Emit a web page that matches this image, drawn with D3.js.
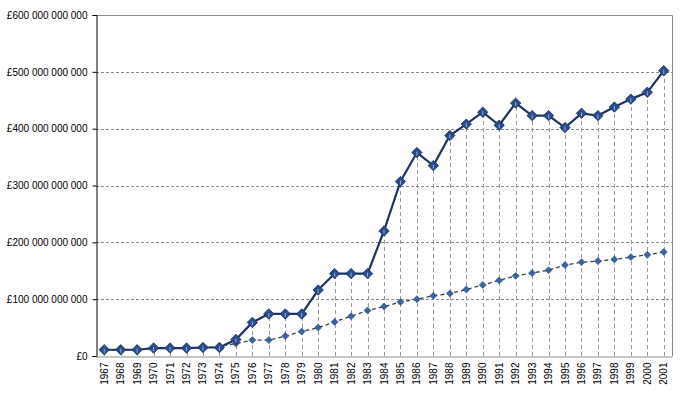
<!DOCTYPE html>
<html>
<head>
<meta charset="utf-8">
<script src="https://cdn.jsdelivr.net/npm/d3@7"></script>
<style>
  body { margin: 0; background: #fff; }
  text { font-family: "Liberation Sans", Arial, sans-serif; font-size: 10px; fill: #000; }
</style>
</head>
<body>
<div class="chart"></div>
<script>
// data, in billions of pounds
const years = d3.range(1967, 2002).map(String);

const mainValues = [11, 11, 11, 14, 14, 14, 15, 15, 29, 59,
                    74, 74, 74, 116, 145, 145, 145, 220, 307, 358,
                    335, 388, 408, 429, 406, 445, 423, 423, 402, 427,
                    423, 438, 452, 464, 502];

const secondValues = [11, 11, 11, 13, 14, 14, 14, 17, 22, 28,
                      28, 35, 43, 50, 60, 70, 80, 87, 95, 100,
                      106, 110, 117, 125, 133, 141, 146, 151, 160, 165,
                      167, 170, 174, 178, 183];

const yTicks = [0, 100, 200, 300, 400, 500, 600];

const width = 682, height = 396;
const pLeft = 96, pRight = 672, pTop = 15, pBottom = 356;

const svg = d3.select(".chart")
              .append("svg")
              .attr("width", width)
              .attr("height", height);

const x = d3.scaleBand()
            .domain(years)
            .range([pLeft, pRight])
            .padding(0);

const y = d3.scaleLinear()
            .domain([0, 600])
            .range([pBottom, pTop]);

const locale = d3.formatLocale({decimal: ".", thousands: " ", grouping: [3], currency: ["£", ""]});
const fmt = locale.format("$,.0f");

// horizontal grid lines
svg.append("g")
   .selectAll("line")
   .data(yTicks.filter(d => d > 0 && d < 600))
   .join("line")
   .attr("x1", pLeft)
   .attr("x2", pRight)
   .attr("y1", d => Math.round(y(d)) + 0.5)
   .attr("y2", d => Math.round(y(d)) + 0.5)
   .attr("stroke", "#8a8a8a")
   .attr("stroke-dasharray", "3,2");

// drop lines down from the top point
const cx = d => x(d) + x.bandwidth() / 2;
svg.append("g")
   .selectAll("line")
   .data(years)
   .join("line")
   .attr("x1", d => Math.round(cx(d)) + 0.5)
   .attr("x2", d => Math.round(cx(d)) + 0.5)
   .attr("y1", pBottom)
   .attr("y2", (d, i) => y(Math.max(mainValues[i], secondValues[i])))
   .attr("stroke", "#9a9a9a")
   .attr("stroke-dasharray", "4,3");

// plot border top / right
svg.append("path")
   .attr("d", `M${pLeft},${pTop + 0.5}H${pRight + 0.5}V${pBottom}`)
   .attr("fill", "none")
   .attr("stroke", "#8a8a8a");

// y axis
const yAxis = svg.append("g")
                 .attr("transform", `translate(${pLeft + 0.5},0)`)
                 .call(d3.axisLeft(y).tickValues(yTicks).tickSize(4).tickPadding(5)
                         .tickFormat(d => fmt(d * 1e9)));
yAxis.selectAll("path, line").attr("stroke", "#000");
yAxis.selectAll("text").style("font-family", "Liberation Sans, Arial, sans-serif").style("font-size", "10px");

// x axis
const xAxis = svg.append("g")
                 .attr("transform", `translate(0,${pBottom + 0.5})`)
                 .call(d3.axisBottom(x).tickSizeOuter(0).tickSize(0).tickPadding(6));
xAxis.select(".domain").attr("stroke", "#8a8a8a");
xAxis.selectAll(".tick text")
     .style("font-family", "Liberation Sans, Arial, sans-serif")
     .style("font-size", "10px")
     .attr("transform", "rotate(-90)")
     .attr("text-anchor", "end")
     .attr("x", -6)
     .attr("y", 0)
     .attr("dy", "0.35em");

// second series (dashed)
const line2 = d3.line().x((d, i) => cx(years[i])).y(d => y(d));
svg.append("path")
   .datum(secondValues)
   .attr("d", line2)
   .attr("fill", "none")
   .attr("stroke", "#404040")
   .attr("stroke-width", 1.3)
   .attr("stroke-dasharray", "4,3");

const diamond = r => `M0,${-r}L${r},0L0,${r}L${-r},0Z`;

svg.append("g")
   .selectAll("path")
   .data(secondValues)
   .join("path")
   .attr("transform", (d, i) => `translate(${cx(years[i])},${y(d)})`)
   .attr("d", diamond(3.5))
   .attr("fill", "#3a64a0")
   .attr("stroke", "#2c4f86")
   .attr("stroke-width", 0.6);

// main series
svg.append("path")
   .datum(mainValues)
   .attr("d", line2)
   .attr("fill", "none")
   .attr("stroke", "#1f3560")
   .attr("stroke-width", 2.2);

const mk = svg.append("g")
              .selectAll("g")
              .data(mainValues)
              .join("g")
              .attr("transform", (d, i) => `translate(${cx(years[i])},${y(d)})`);
mk.append("path")
  .attr("d", diamond(5.2))
  .attr("fill", "#2b4c8c")
  .attr("stroke", "#1a2f5e")
  .attr("stroke-width", 0.8);
mk.append("line")
  .attr("x1", 0).attr("x2", 0)
  .attr("y1", -1).attr("y2", 3)
  .attr("stroke", "#b8c8e8")
  .attr("stroke-width", 0.8);
</script>
</body>
</html>
